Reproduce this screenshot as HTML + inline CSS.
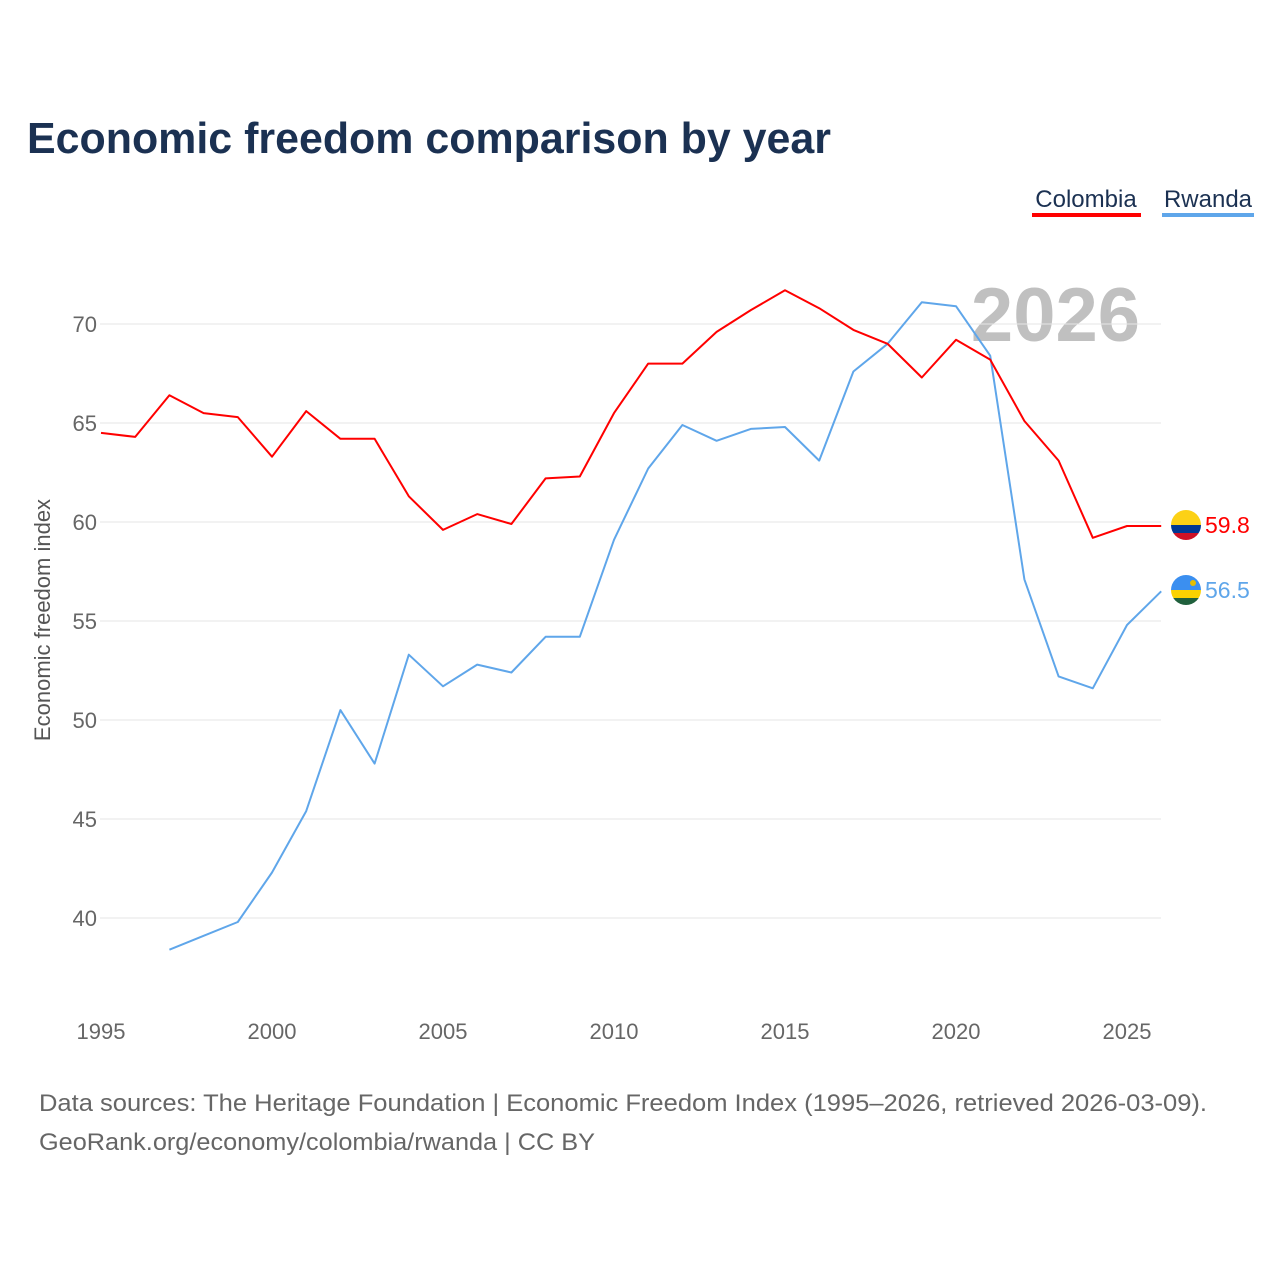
<!DOCTYPE html>
<html><head><meta charset="utf-8">
<style>
body{margin:0;background:#fff;}
svg{display:block;font-family:"Liberation Sans",sans-serif;}
</style></head>
<body>
<svg id="chart" width="1280" height="1280" viewBox="0 0 1280 1280">
<text x="27" y="153" font-size="44" font-weight="bold" fill="#1b3152" textLength="804" lengthAdjust="spacingAndGlyphs">Economic freedom comparison by year</text>
<g>
<g><text x="1086" y="207" font-size="24" fill="#1b3152" text-anchor="middle">Colombia</text><rect x="1032" y="213" width="109" height="4" fill="#ff0000"/></g>
<g><text x="1208" y="207" font-size="24" fill="#1b3152" text-anchor="middle">Rwanda</text><rect x="1162" y="213" width="92" height="4" fill="#5fa6ea"/></g>
</g>
<text x="1140" y="341" font-size="76" font-weight="bold" fill="#c0c0c0" text-anchor="end">2026</text>
<g id="grid"></g><g id="yticks"></g><g id="xticks"></g><g id="lines"></g>
<text transform="translate(50,620) rotate(-90)" font-size="22" fill="#555" text-anchor="middle">Economic freedom index</text>
<g>
<clipPath id="c1"><circle cx="1186" cy="525" r="15"/></clipPath>
<g clip-path="url(#c1)"><rect x="1171" y="510" width="30" height="15" fill="#fcd116"/><rect x="1171" y="525" width="30" height="8" fill="#003893"/><rect x="1171" y="533" width="30" height="8" fill="#ce1126"/></g></g>
<g>
<clipPath id="c2"><circle cx="1186" cy="590" r="15"/></clipPath>
<g clip-path="url(#c2)"><rect x="1171" y="575" width="30" height="15" fill="#3b8ff0"/><rect x="1171" y="590" width="30" height="8" fill="#fad201"/><rect x="1171" y="598" width="30" height="8" fill="#20603d"/><circle cx="1193" cy="583" r="3" fill="#e5be01"/></g></g>
<text x="1205" y="533" font-size="23" fill="#ff0000">59.8</text>
<text x="1205" y="598" font-size="23" fill="#5fa6ea">56.5</text>
<text x="39" y="1111" font-size="24" fill="#666" textLength="1168" lengthAdjust="spacingAndGlyphs">Data sources: The Heritage Foundation | Economic Freedom Index (1995–2026, retrieved 2026-03-09).</text>
<text x="39" y="1150" font-size="24" fill="#666" textLength="556" lengthAdjust="spacingAndGlyphs">GeoRank.org/economy/colombia/rwanda | CC BY</text>
</svg>
<script>
const years=[1995,1996,1997,1998,1999,2000,2001,2002,2003,2004,2005,2006,2007,2008,2009,2010,2011,2012,2013,2014,2015,2016,2017,2018,2019,2020,2021,2022,2023,2024,2025,2026];
const colombia=[64.5,64.3,66.4,65.5,65.3,63.3,65.6,64.2,64.2,61.3,59.6,60.4,59.9,62.2,62.3,65.5,68.0,68.0,69.6,70.7,71.7,70.8,69.7,69.0,67.3,69.2,68.2,65.1,63.1,59.2,59.8,59.8];
const rwanda=[null,null,38.4,39.1,39.8,42.3,45.4,50.5,47.8,53.3,51.7,52.8,52.4,54.2,54.2,59.1,62.7,64.9,64.1,64.7,64.8,63.1,67.6,69.0,71.1,70.9,68.4,57.1,52.2,51.6,54.8,56.5];
const yTicks=[40,45,50,55,60,65,70];
const xTicks=[1995,2000,2005,2010,2015,2020,2025];
const X=y=>101+(y-1995)*34.2;
const Y=v=>324+(70-v)*19.8;
const NS="http://www.w3.org/2000/svg";
function mk(t,a,p){const e=document.createElementNS(NS,t);for(const k in a)e.setAttribute(k,a[k]);p.appendChild(e);return e;}
const grid=document.getElementById('grid'),yt=document.getElementById('yticks'),xt=document.getElementById('xticks'),ln=document.getElementById('lines');
yTicks.forEach(v=>{
 const l=mk('line',{x1:100,x2:1161,y1:Y(v),y2:Y(v),stroke:'#e6e6e6','stroke-width':1},grid);
 
 
 const t=mk('text',{x:97,y:Y(v)+8,'font-size':22,fill:'#666','text-anchor':'end'},yt);t.textContent=v;
 
 
});
xTicks.forEach(v=>{
 const t=mk('text',{x:X(v),y:1039,'font-size':22,fill:'#666','text-anchor':'middle'},xt);t.textContent=v;
 
 
});
function path(vals,col,name){
 let d='';vals.forEach((v,i)=>{if(v==null)return;d+=(d?'L':'M')+X(years[i]).toFixed(1)+','+Y(v).toFixed(1);});
 const p=mk('path',{d:d,fill:'none',stroke:col,'stroke-width':2,'stroke-linejoin':'round'},ln);
 
 
}
path(rwanda,'#5fa6ea','rwanda-line');
path(colombia,'#ff0000','colombia-line');
</script>
</body></html>
